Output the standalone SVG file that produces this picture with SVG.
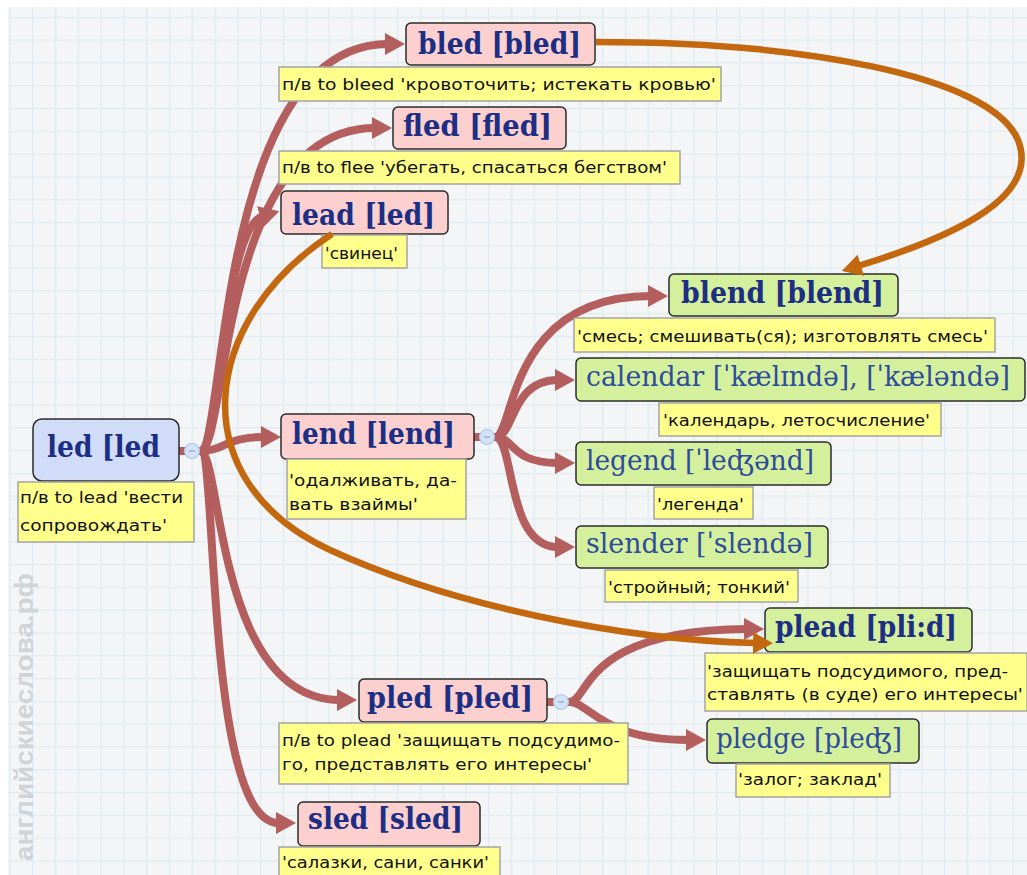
<svg xmlns="http://www.w3.org/2000/svg" width="1027" height="875" viewBox="0 0 1027 875">
<defs>
<pattern id="grid" patternUnits="userSpaceOnUse" x="9.3" y="-6.1" width="22.8" height="22.8">
<rect width="22.8" height="22.8" fill="#f3f5f7"/>
<path d="M0.6,0 V22.8 M0,0.6 H22.8" stroke="#dfebf1" stroke-width="1.2" fill="none"/>
</pattern>
<marker id="arR" markerUnits="userSpaceOnUse" viewBox="0 0 20 22" markerWidth="20" markerHeight="22" refX="3" refY="11" orient="auto">
<path d="M0,0 L20,11 L0,22 z" fill="#b45e5d"/>
</marker>
<marker id="arO" markerUnits="userSpaceOnUse" viewBox="0 0 20 22" markerWidth="20" markerHeight="22" refX="3" refY="11" orient="auto">
<path d="M0,0 L20,11 L0,22 z" fill="#c4680f"/>
</marker>
<style>
.red{fill:none;stroke:#b45e5d;stroke-width:8;marker-end:url(#arR)}
.stub{fill:none;stroke:#b45e5d;stroke-width:8}
.org{fill:none;stroke:#c4680f;stroke-width:6.5;marker-end:url(#arO)}
.pink{fill:#fbd0cf;stroke:#2b2b2b;stroke-width:1.5}
.green{fill:#d5f09c;stroke:#2b2b2b;stroke-width:1.5}
.blue{fill:#d1ddf8;stroke:#2b2b2b;stroke-width:1.5}
.note{fill:#ffff8c;stroke:#a4a4a4;stroke-width:1.5}
.t{font-family:"DejaVu Serif","Liberation Serif",serif;font-weight:bold;font-size:30px;fill:#1c2f85}
.tp{font-family:"DejaVu Serif","Liberation Serif",serif;font-size:27px;fill:#2d4c9c}
.n{font-family:"DejaVu Sans","Liberation Sans",sans-serif;font-size:16.5px;fill:#111}
.col{fill:#d3e2f7;stroke:#aec6e6;stroke-width:1.2}
.dash{stroke:#8ea4c4;stroke-width:1.2}
</style>
</defs>
<rect x="0" y="0" width="1027" height="875" fill="#ffffff"/>
<rect x="8" y="7" width="1019" height="868" fill="url(#grid)"/>
<text transform="translate(33,861) rotate(-90)" font-family="Liberation Sans, sans-serif" font-weight="bold" font-size="25" fill="#d0d4d7" textLength="288" lengthAdjust="spacingAndGlyphs">английскиеслова.рф</text>

<g id="connectors">
<path class="stub" d="M179,451 H200"/>
<path class="stub" d="M473,437 H495"/>
<path class="stub" d="M546,702 H569"/>
<path class="red" d="M200,451 C226,451 215,44 388,44"/>
<path class="red" d="M200,451 C228,451 218,128 375,128"/>
<path class="red" d="M200,451 C222,451 222,228 263,216"/>
<path class="red" d="M200,451 C225,451 225,437 264,437"/>
<path class="red" d="M200,451 C222,451 215,700 340,700"/>
<path class="red" d="M200,451 C218,451 205,823 279,823"/>
<path class="red" d="M495,437 C515,437 505,296 651,296"/>
<path class="red" d="M495,437 C515,437 510,380 558,380"/>
<path class="red" d="M495,437 C515,437 510,463 558,463"/>
<path class="red" d="M495,437 C515,437 505,547 558,547"/>
<path class="red" d="M569,702 C590,702 580,630 747,629"/>
<path class="red" d="M569,702 C590,702 600,740 689,740"/>
</g>

<g id="node-led">
<rect class="blue" x="33" y="419" width="146" height="62" rx="9"/>
<text class="t" x="47" y="457" textLength="113" lengthAdjust="spacingAndGlyphs">led [led</text>
<rect class="note" x="18" y="482" width="176" height="60"/>
<text class="n" x="20" y="503" textLength="163" lengthAdjust="spacingAndGlyphs">п/в to lead 'вести</text>
<text class="n" x="20" y="531" textLength="147" lengthAdjust="spacingAndGlyphs">сопровождать'</text>
<circle class="col" cx="192" cy="451" r="7.5"/><path class="dash" d="M189,451 H195"/>
</g>

<g id="node-bled">
<rect class="pink" x="406" y="23" width="189" height="42" rx="5"/>
<text class="t" x="418" y="54" textLength="163" lengthAdjust="spacingAndGlyphs">bled [bled]</text>
<rect class="note" x="279" y="67" width="442" height="34"/>
<text class="n" x="282" y="90" textLength="434" lengthAdjust="spacingAndGlyphs">п/в to bleed 'кровоточить; истекать кровью'</text>
</g>

<g id="node-fled">
<rect class="pink" x="393" y="107" width="173" height="42" rx="5"/>
<text class="t" x="403" y="136" textLength="149" lengthAdjust="spacingAndGlyphs">fled [fled]</text>
<rect class="note" x="279" y="151" width="401" height="33"/>
<text class="n" x="282" y="173" textLength="385" lengthAdjust="spacingAndGlyphs">п/в to flee 'убегать, спасаться бегством'</text>
</g>

<g id="node-lead">
<rect class="pink" x="281" y="191" width="167" height="43" rx="5"/>
<text class="t" x="292" y="225" textLength="143" lengthAdjust="spacingAndGlyphs">lead [led]</text>
<rect class="note" x="322" y="235" width="85" height="33"/>
<text class="n" x="325" y="259" textLength="73" lengthAdjust="spacingAndGlyphs">'свинец'</text>
</g>

<g id="node-lend">
<rect class="pink" x="281" y="414" width="193" height="45" rx="5"/>
<text class="t" x="292" y="444" textLength="163" lengthAdjust="spacingAndGlyphs">lend [lend]</text>
<rect class="note" x="287" y="459" width="179" height="60"/>
<text class="n" x="289" y="486" textLength="168" lengthAdjust="spacingAndGlyphs">'одалживать, да-</text>
<text class="n" x="289" y="510" textLength="129" lengthAdjust="spacingAndGlyphs">вать взаймы'</text>
<circle class="col" cx="487" cy="437" r="7.5"/><path class="dash" d="M484,437 H490"/>
</g>

<g id="node-blend">
<rect class="green" x="669" y="274" width="229" height="42" rx="5"/>
<text class="t" x="681" y="303" textLength="203" lengthAdjust="spacingAndGlyphs">blend [blend]</text>
<rect class="note" x="574" y="318" width="421" height="34"/>
<text class="n" x="577" y="342" textLength="411" lengthAdjust="spacingAndGlyphs">'смесь; смешивать(ся); изготовлять смесь'</text>
</g>

<g id="node-calendar">
<rect class="green" x="576" y="358" width="449" height="43" rx="5"/>
<text class="tp" x="586" y="386" textLength="424" lengthAdjust="spacingAndGlyphs">calendar [ˈkælɪndə], [ˈkæləndə]</text>
<rect class="note" x="659" y="403" width="282" height="33"/>
<text class="n" x="663" y="426" textLength="267" lengthAdjust="spacingAndGlyphs">'календарь, летосчисление'</text>
</g>

<g id="node-legend">
<rect class="green" x="576" y="442" width="255" height="43" rx="5"/>
<text class="tp" x="586" y="470" textLength="228" lengthAdjust="spacingAndGlyphs">legend [ˈleʤənd]</text>
<rect class="note" x="654" y="487" width="99" height="32"/>
<text class="n" x="657" y="510" textLength="87" lengthAdjust="spacingAndGlyphs">'легенда'</text>
</g>

<g id="node-slender">
<rect class="green" x="576" y="526" width="252" height="42" rx="5"/>
<text class="tp" x="586" y="553" textLength="227" lengthAdjust="spacingAndGlyphs">slender [ˈslendə]</text>
<rect class="note" x="605" y="570" width="193" height="32"/>
<text class="n" x="608" y="593" textLength="182" lengthAdjust="spacingAndGlyphs">'стройный; тонкий'</text>
</g>

<g id="node-plead">
<rect class="green" x="765" y="608" width="207" height="44" rx="5"/>
<text class="t" x="775" y="637" textLength="182" lengthAdjust="spacingAndGlyphs">plead [pli:d]</text>
<rect class="note" x="705" y="653" width="322" height="58"/>
<text class="n" x="707" y="677" textLength="301" lengthAdjust="spacingAndGlyphs">'защищать подсудимого, пред-</text>
<text class="n" x="707" y="700" textLength="316" lengthAdjust="spacingAndGlyphs">ставлять (в суде) его интересы'</text>
</g>

<g id="node-pled">
<rect class="pink" x="359" y="679" width="188" height="43" rx="5"/>
<text class="t" x="367" y="708" textLength="166" lengthAdjust="spacingAndGlyphs">pled [pled]</text>
<rect class="note" x="279" y="723" width="349" height="61"/>
<text class="n" x="282" y="746" textLength="338" lengthAdjust="spacingAndGlyphs">п/в to plead 'защищать подсудимо-</text>
<text class="n" x="282" y="770" textLength="310" lengthAdjust="spacingAndGlyphs">го, представлять его интересы'</text>
<circle class="col" cx="561" cy="702" r="7.5"/><path class="dash" d="M558,702 H564"/>
</g>

<g id="node-pledge">
<rect class="green" x="707" y="719" width="212" height="44" rx="5"/>
<text class="tp" x="716" y="748" textLength="186" lengthAdjust="spacingAndGlyphs">pledge [pleʤ]</text>
<rect class="note" x="736" y="764" width="154" height="33"/>
<text class="n" x="738" y="785" textLength="144" lengthAdjust="spacingAndGlyphs">'залог; заклад'</text>
</g>

<g id="node-sled">
<rect class="pink" x="298" y="802" width="182" height="44" rx="5"/>
<text class="t" x="308" y="829" textLength="155" lengthAdjust="spacingAndGlyphs">sled [sled]</text>
<rect class="note" x="279" y="847" width="221" height="34"/>
<text class="n" x="282" y="868" textLength="207" lengthAdjust="spacingAndGlyphs">'салазки, сани, санки'</text>
</g>

<g id="connectors-over">
<path class="org" d="M596,42 C800,42 990,75 1018,140 C1040,195 960,235 858,266"/>
<path class="org" d="M332,234 C200,320 180,480 330,550 C450,605 620,640 756,643"/>
</g>
</svg>
